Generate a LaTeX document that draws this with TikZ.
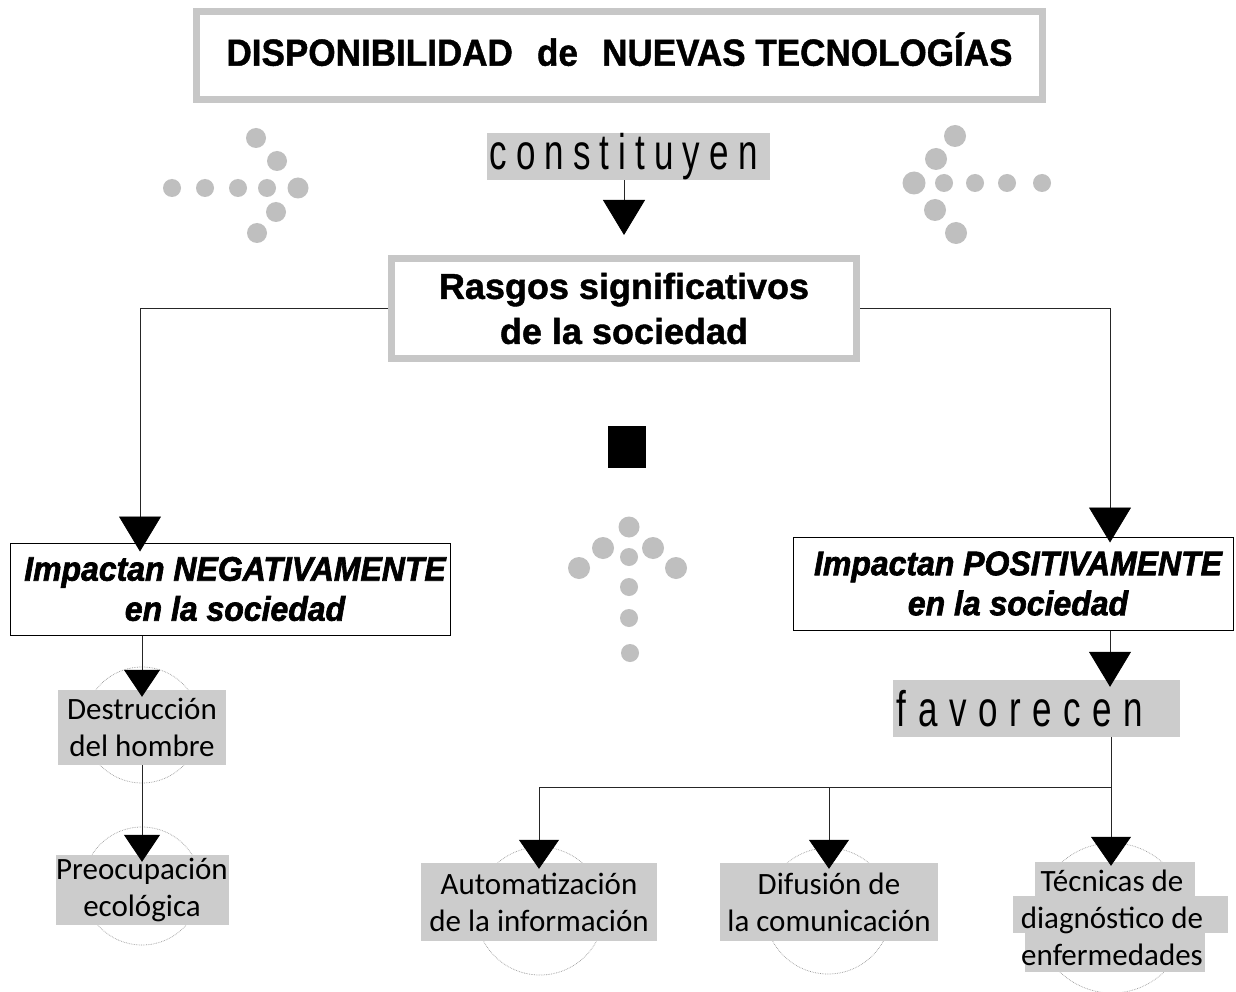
\documentclass[tikz,border=0pt]{standalone}
\usepackage{fontspec}
\setmainfont{Liberation Sans}
\newfontfamily\carl{Carlito}
\newfontfamily\heavyit[FakeBold=2]{Liberation Sans Bold Italic}
\newfontfamily\heavyup[FakeBold=1.2]{Liberation Sans Bold}
\usetikzlibrary{arrows.meta,calc}
\tikzset{
  frame/.style={draw=black!22, line width=7pt, fill=white, inner sep=0pt},
  grayfill/.style={fill=black!20, inner sep=0pt},
  blackbox/.style={draw=black, line width=1pt, fill=white, inner sep=0pt},
  conn/.style={draw=black!85, line width=0.8pt},
  arrbig/.style={conn, -{Triangle[length=35pt,width=42pt,color=black,fill=black]}},
  arrmid/.style={conn, -{Triangle[length=29pt,width=40pt,color=black,fill=black]}},
  arrsmall/.style={conn, -{Triangle[length=27pt,width=36pt,color=black,fill=black]}},
  ring/.style={draw=black!40, densely dotted, line width=0.7pt},
  dot/.style={fill=black!25},
  bodytxt/.style={font=\carl\fontsize{31}{37}\selectfont, align=center},
  impact/.style={blackbox, align=center, font=\heavyit\fontsize{34}{40}\selectfont},
}
\begin{document}
\begin{tikzpicture}[x=1pt,y=-1pt]
\useasboundingbox[fill=white] (0,0) rectangle (1236,992);

% decorative dots
\foreach \x/\y/\r in {256/138/10,277/161/10,172/188/9,205/188/9,238/188/9,267/188/9,298/188/10.5,276/212/10,257/233/10,
  955/136/11,936/159/11,914/183/11.5,944/183/9,975/183/9,1007/183/9,1042/183/9,935/210/11,956/233/11,
  629/527/10.5,603/548/11,653/548/11,579/568/11,676/568/11,629/557/9,629/587/9,629/618/9,630/653/9}
  {\fill[dot] (\x,\y) circle[radius=\r pt];}
\fill[black] (608,426) rectangle (646,468);

% rings behind the bottom nodes
\draw[ring] (142,725) circle[radius=58pt];
\draw[ring] (142,886) circle[radius=59pt];
\draw[ring] (540,911) circle[radius=64pt];
\draw[ring] (828,911) circle[radius=63pt];
\draw[ring] (1112,918) circle[radius=75pt];

% nodes
\node[frame, minimum width=846pt, minimum height=88pt] (title) at (619.5,55.5)
  {\raisebox{13pt}{\heavyup\fontsize{37.7}{40}\selectfont\scalebox{0.93}[1]{DISPONIBILIDAD\hspace{26pt}de\hspace{26pt}NUEVAS TECNOLOGÍAS}}};

\node[grayfill, minimum width=283pt, minimum height=47pt] (constituyen) at (628.5,156.5)
  {\fontsize{50}{54}\selectfont\scalebox{0.7}[1]{c\kern13pt o\kern13pt n\kern13pt s\kern13pt t\kern13pt i\kern13pt t\kern13pt u\kern13pt y\kern13pt e\kern13pt n}\kern10pt};

\node[frame, minimum width=465pt, minimum height=100pt, align=center,
  font=\heavyup\fontsize{36}{45}\selectfont] (rasgos) at (624,308.5)
  {Rasgos significativos\\de la sociedad};

\node[impact, minimum width=440pt, minimum height=92pt] (neg) at (230,589)
  {\kern10pt\scalebox{0.94}[1]{Impactan NEGATIVAMENTE}\\\kern10pt\scalebox{0.94}[1]{en la sociedad}};

\node[impact, minimum width=440pt, minimum height=93pt] (pos) at (1013,583.5)
  {\kern10pt\scalebox{0.94}[1]{Impactan POSITIVAMENTE}\\\kern10pt\scalebox{0.94}[1]{en la sociedad}};

\node[grayfill, minimum width=287pt, minimum height=57pt] (fav) at (1036.5,708.5)
  {\fontsize{50}{54}\selectfont\scalebox{0.7}[1]{f\kern16.5pt a\kern16.5pt v\kern16.5pt o\kern16.5pt r\kern16.5pt e\kern16.5pt c\kern16.5pt e\kern16.5pt n}\kern33pt};

\node[grayfill, bodytxt, minimum width=168pt, minimum height=75pt] (destr) at (142,727.5)
  {Destrucción\\del hombre};
\node[grayfill, bodytxt, minimum width=173pt, minimum height=70pt] (preoc) at (142,890)
  {Preocupación\\ecológica};
\node[grayfill, bodytxt, minimum width=236pt, minimum height=78pt] (auto) at (539,902)
  {Automatización\\de la información};
\node[grayfill, bodytxt, minimum width=218pt, minimum height=78pt] (dif) at (829,902)
  {Difusión de\\la comunicación};

\fill[black!20] (1035,862) rectangle (1195,896);
\fill[black!20] (1013,896) rectangle (1228,933);
\fill[black!20] (1025,933) rectangle (1205,972);
\node[bodytxt, inner sep=0pt, minimum height=112pt] (tec) at (1112,918)
  {Técnicas de\\diagnóstico de\\enfermedades};

% connectors
\draw[arrbig, shorten >=20pt] (constituyen.south -| rasgos.north) -- (rasgos.north);
\draw[arrbig, shorten >=-9pt] (rasgos.west) -| ([xshift=-90pt]neg.north);
\draw[arrbig, shorten >=-6pt] (rasgos.east) -| ([xshift=97pt]pos.north);
\draw[arrsmall, shorten >=-7pt] (neg.south -| destr.north) -- (destr.north);
\draw[arrsmall, shorten >=-7pt] (destr.south) -- (preoc.north);
\draw[arrbig, shorten >=-7pt] ([xshift=97pt]pos.south) -- ([xshift=97pt]pos.south |- fav.north);
\coordinate (branch) at (1111,787);
\draw[conn] (fav.south -| branch) -- (branch);
\draw[arrmid, shorten >=-6pt] (branch) -| (auto.north);
\draw[arrmid, shorten >=-6pt] (branch) -| (dif.north);
\draw[arrmid, shorten >=-4pt] (branch) -- (branch |- tec.north);
\end{tikzpicture}
\end{document}
